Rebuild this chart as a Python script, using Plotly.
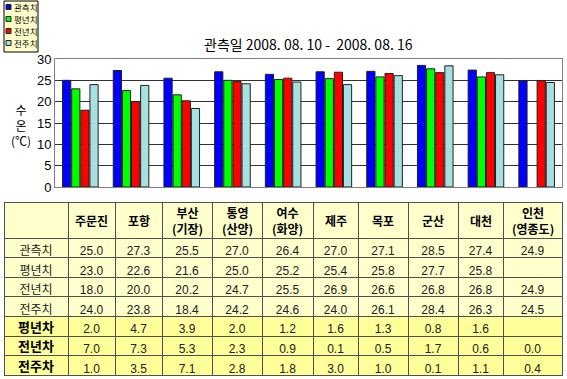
import plotly.graph_objects as go

W, H = 567, 379

stations = ["주문진", "포항", "부산<br>(기장)", "통영<br>(산양)", "여수<br>(화양)",
            "제주", "목포", "군산", "대천", "인천<br>(영종도)"]
series_names = ["관측치", "평년치", "전년치", "전주치"]
obs = [25.0, 27.3, 25.5, 27.0, 26.4, 27.0, 27.1, 28.5, 27.4, 24.9]
normal = [23.0, 22.6, 21.6, 25.0, 25.2, 25.4, 25.8, 27.7, 25.8, None]
last_year = [18.0, 20.0, 20.2, 24.7, 25.5, 26.9, 26.6, 26.8, 26.8, 24.9]
last_week = [24.0, 23.8, 18.4, 24.2, 24.6, 24.0, 26.1, 28.4, 26.3, 24.5]
diff_names = ["평년차", "전년차", "전주차"]
diff_normal = [2.0, 4.7, 3.9, 2.0, 1.2, 1.6, 1.3, 0.8, 1.6, None]
diff_last_year = [7.0, 7.3, 5.3, 2.3, 0.9, 0.1, 0.5, 1.7, 0.6, 0.0]
diff_last_week = [1.0, 3.5, 7.1, 2.8, 1.8, 3.0, 1.0, 0.1, 1.1, 0.4]
colors = ["#0000FF", "#00FF00", "#FF0000", "#A6E0E0"]
title_text = "관측일 2008. 08. 10 -  2008. 08. 16"

def px(x):
    return x / W

def py(y):
    return 1 - y / H

fig = go.Figure()
cats = list(range(len(stations)))
for name, vals, col in zip(series_names, [obs, normal, last_year, last_week], colors):
    fig.add_trace(go.Bar(x=cats, y=vals, name=name, marker_color=col,
                         marker_line=dict(color="#202020", width=1),
                         showlegend=False, xaxis="x", yaxis="y"))

# table
series_rows = [obs, normal, last_year, last_week]
diff_rows = [diff_normal, diff_last_year, diff_last_week]

def fmt(v):
    return "" if v is None else f"{v:.1f}"

label_col = series_names + [""] * len(diff_names)
columns = [label_col]
for i in range(len(stations)):
    col = [fmt(r[i]) for r in series_rows] + [fmt(r[i]) for r in diff_rows]
    columns.append(col)

light = "#FFFFCC"
strong = "#FFFF99"
fill_col = [light] * 4 + [strong] * 3
col_w = [64, 47, 47, 50, 50, 51, 45, 50, 50, 45, 59]
tbl_x0, tbl_x1 = 4, 562
tbl_top, header_h, row_h = 202, 36, 19.6
fig.add_trace(go.Table(
    domain=dict(x=[px(tbl_x0), px(tbl_x1)], y=[py(377), py(tbl_top)]),
    columnwidth=col_w,
    header=dict(values=[""] * (len(stations) + 1),
                fill_color=light, line=dict(color="#505050", width=1),
                align="center", height=header_h,
                font=dict(family="Noto Sans CJK KR", size=12, color="black")),
    cells=dict(values=columns,
               fill_color=[fill_col] * (len(stations) + 1),
               line=dict(color="#505050", width=1),
               align="center", height=row_h,
               font=dict(family=["Noto Sans CJK KR"] + ["Liberation Sans"] * len(stations),
                         size=12, color="#202020")),
))

shapes = []
annotations = []
# header labels placed over the header row
total_w = sum(col_w)
scale = (tbl_x1 - tbl_x0) / total_w
xpos = tbl_x0 + col_w[0] * scale
for s, w in zip(stations, col_w[1:]):
    cx = xpos + w * scale / 2
    annotations.append(dict(text="<b>" + s + "</b>", xref="paper", yref="paper",
                            x=px(cx), y=py(tbl_top + header_h / 2),
                            xanchor="center", yanchor="middle", showarrow=False,
                            font=dict(family="Noto Sans CJK KR", size=12, color="black")))
    xpos += w * scale
# bold row labels of the difference rows
first_cx = tbl_x0 + col_w[0] * scale / 2
for k, n in enumerate(diff_names):
    cy = tbl_top + header_h + row_h * (len(series_rows) + k) + row_h / 2
    annotations.append(dict(text="<b>" + n + "</b>", xref="paper", yref="paper",
                            x=px(first_cx), y=py(cy),
                            xanchor="center", yanchor="middle", showarrow=False,
                            font=dict(family="Noto Sans CJK KR", size=13, color="black")))

# legend box
shapes.append(dict(type="rect", xref="paper", yref="paper",
                   x0=px(4), x1=px(38), y0=py(52), y1=py(1),
                   fillcolor="#FFFFCC", line=dict(color="black", width=1), layer="above"))
for k, (name, col) in enumerate(zip(series_names, colors)):
    yc = 7 + 12 * k
    shapes.append(dict(type="rect", xref="paper", yref="paper",
                       x0=px(6), x1=px(11), y0=py(yc + 2.5), y1=py(yc - 2.5),
                       fillcolor=col, line=dict(color="#202020", width=1), layer="above"))
    annotations.append(dict(text=name, xref="paper", yref="paper", x=px(12), y=py(yc),
                            xanchor="left", yanchor="middle", showarrow=False,
                            font=dict(family="Noto Sans CJK KR", size=8.5, color="black")))

annotations.append(dict(text=title_text, xref="paper", yref="paper", x=px(308), y=py(44),
                        xanchor="center", yanchor="middle", showarrow=False,
                        font=dict(family="Noto Sans CJK KR", size=14, color="black")))
annotations.append(dict(text="수<br>온<br>(℃)", xref="paper", yref="paper", x=px(21), y=py(125),
                        xanchor="center", yanchor="middle", showarrow=False,
                        font=dict(family="Noto Sans CJK KR", size=12, color="black")))

fig.update_layout(
    width=W, height=H, margin=dict(l=0, r=0, t=0, b=0),
    paper_bgcolor="white", plot_bgcolor="white",
    barmode="group", bargap=0.28, bargroupgap=0.1,
    xaxis=dict(domain=[px(55), px(562)], range=[-0.5, len(stations) - 0.5],
               showticklabels=False, showgrid=False, zeroline=False, ticks="",
               showline=True, linecolor="#808080", mirror=True, linewidth=1,
               automargin=False),
    yaxis=dict(domain=[py(187), py(59)], range=[0, 30], dtick=5,
               showgrid=True, gridcolor="#303030", gridwidth=1, zeroline=False,
               showline=True, linecolor="#808080", mirror=True, linewidth=1,
               tickfont=dict(family="Liberation Sans", size=13, color="black"),
               ticks="", ticklen=0, automargin=False),
    shapes=shapes, annotations=annotations,
)

fig.write_html("out.html", config={"displayModeBar": False},
               post_script="document.body.style.margin='0';")
